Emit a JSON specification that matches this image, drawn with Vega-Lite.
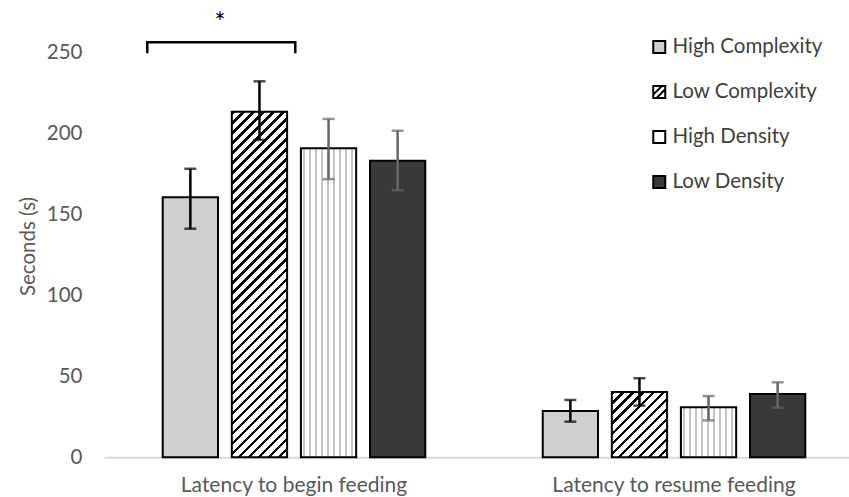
{
  "$schema": "https://vega.github.io/schema/vega-lite/v6.json",
  "width": 745,
  "height": 405,
  "autosize": {"type": "none"},
  "padding": {"left": 104, "top": 52.3, "right": 0, "bottom": 39.7},
  "background": "white",
  "config": {"view": {"stroke": null}, "font": "Lato"},
  "datasets": {
    "bars": [
      {"group": "Latency to begin feeding", "cond": "High Complexity", "mean": 160.5, "lo": 141.1, "hi": 178.1},
      {"group": "Latency to begin feeding", "cond": "Low Complexity", "mean": 213.3, "lo": 195.9, "hi": 232.1},
      {"group": "Latency to begin feeding", "cond": "High Density", "mean": 190.7, "lo": 171.7, "hi": 208.9},
      {"group": "Latency to begin feeding", "cond": "Low Density", "mean": 183.1, "lo": 164.8, "hi": 201.6},
      {"group": "Latency to resume feeding", "cond": "High Complexity", "mean": 28.6, "lo": 22.0, "hi": 35.4},
      {"group": "Latency to resume feeding", "cond": "Low Complexity", "mean": 40.3, "lo": 31.9, "hi": 48.8},
      {"group": "Latency to resume feeding", "cond": "High Density", "mean": 30.9, "lo": 22.8, "hi": 37.8},
      {"group": "Latency to resume feeding", "cond": "Low Density", "mean": 39.1, "lo": 30.6, "hi": 46.3}
    ],
    "bracket": [
      {"bx": 0.1139, "by": 249.4, "ord": 1},
      {"bx": 0.1139, "by": 256.2, "ord": 2},
      {"bx": 0.5034, "by": 256.2, "ord": 3},
      {"bx": 0.5034, "by": 249.4, "ord": 4}
    ],
    "star": [
      {"bx": 0.3053, "by": 262.5, "label": "*"}
    ]
  },
  "layer": [
    {
      "data": {"name": "bars"},
      "encoding": {
        "x": {
          "field": "group", "type": "nominal", "sort": null,
          "scale": {"range": [0, 760], "paddingInner": 0, "paddingOuter": 0},
          "axis": {
            "title": null, "labelAngle": 0, "ticks": false, "tickSize": 0, "labelLimit": 0,
            "domainColor": "#d9d9d9", "domainWidth": 2,
            "labelFont": "Lato", "labelFontSize": 21, "labelColor": "#595959",
            "labelBaseline": "alphabetic", "labelPadding": 34
          }
        },
        "xOffset": {
          "field": "cond", "type": "nominal", "sort": ["High Complexity", "Low Complexity", "High Density", "Low Density"],
          "scale": {"paddingInner": 0.2, "paddingOuter": 0.85}
        }
      },
      "layer": [
        {
          "mark": {"type": "bar", "stroke": "#000000", "strokeWidth": 2},
          "encoding": {
            "y": {
              "field": "mean", "type": "quantitative",
              "scale": {"domain": [0, 250], "nice": false},
              "axis": {
                "values": [0, 50, 100, 150, 200, 250], "grid": false, "domain": false, "ticks": false, "tickSize": 0,
                "labelFont": "Lato", "labelFontSize": 20.5, "labelColor": "#595959", "labelPadding": 22,
                "title": "Seconds (s)", "titleFont": "Lato", "titleFontSize": 20.5, "titleFontWeight": "normal", "titleColor": "#595959",
                "titleAngle": -90, "titleBaseline": "alphabetic", "titleAlign": "center", "titleX": -70, "titleY": 193.7
              }
            },
            "fill": {
              "condition": [
                {"test": "datum.cond === 'Low Complexity' && datum.group === 'Latency to begin feeding'",
                 "value": {"gradient": "linear", "x1": 0, "y1": 0, "x2": 0.18091, "y2": 1.13101, "stops": [
                  {"offset": 0, "color": "#000"}, {"offset": 0.00875, "color": "#000"}, {"offset": 0.00875, "color": "#fff"}, {"offset": 0.025, "color": "#fff"},
                  {"offset": 0.025, "color": "#000"}, {"offset": 0.03375, "color": "#000"}, {"offset": 0.03375, "color": "#fff"}, {"offset": 0.05, "color": "#fff"},
                  {"offset": 0.05, "color": "#000"}, {"offset": 0.05875, "color": "#000"}, {"offset": 0.05875, "color": "#fff"}, {"offset": 0.075, "color": "#fff"},
                  {"offset": 0.075, "color": "#000"}, {"offset": 0.08375, "color": "#000"}, {"offset": 0.08375, "color": "#fff"}, {"offset": 0.1, "color": "#fff"},
                  {"offset": 0.1, "color": "#000"}, {"offset": 0.10875, "color": "#000"}, {"offset": 0.10875, "color": "#fff"}, {"offset": 0.125, "color": "#fff"},
                  {"offset": 0.125, "color": "#000"}, {"offset": 0.13375, "color": "#000"}, {"offset": 0.13375, "color": "#fff"}, {"offset": 0.15, "color": "#fff"},
                  {"offset": 0.15, "color": "#000"}, {"offset": 0.15875, "color": "#000"}, {"offset": 0.15875, "color": "#fff"}, {"offset": 0.175, "color": "#fff"},
                  {"offset": 0.175, "color": "#000"}, {"offset": 0.18375, "color": "#000"}, {"offset": 0.18375, "color": "#fff"}, {"offset": 0.2, "color": "#fff"},
                  {"offset": 0.2, "color": "#000"}, {"offset": 0.20875, "color": "#000"}, {"offset": 0.20875, "color": "#fff"}, {"offset": 0.225, "color": "#fff"},
                  {"offset": 0.225, "color": "#000"}, {"offset": 0.23375, "color": "#000"}, {"offset": 0.23375, "color": "#fff"}, {"offset": 0.25, "color": "#fff"},
                  {"offset": 0.25, "color": "#000"}, {"offset": 0.25875, "color": "#000"}, {"offset": 0.25875, "color": "#fff"}, {"offset": 0.275, "color": "#fff"},
                  {"offset": 0.275, "color": "#000"}, {"offset": 0.28375, "color": "#000"}, {"offset": 0.28375, "color": "#fff"}, {"offset": 0.3, "color": "#fff"},
                  {"offset": 0.3, "color": "#000"}, {"offset": 0.30875, "color": "#000"}, {"offset": 0.30875, "color": "#fff"}, {"offset": 0.325, "color": "#fff"},
                  {"offset": 0.325, "color": "#000"}, {"offset": 0.33375, "color": "#000"}, {"offset": 0.33375, "color": "#fff"}, {"offset": 0.35, "color": "#fff"},
                  {"offset": 0.35, "color": "#000"}, {"offset": 0.35875, "color": "#000"}, {"offset": 0.35875, "color": "#fff"}, {"offset": 0.375, "color": "#fff"},
                  {"offset": 0.375, "color": "#000"}, {"offset": 0.38375, "color": "#000"}, {"offset": 0.38375, "color": "#fff"}, {"offset": 0.4, "color": "#fff"},
                  {"offset": 0.4, "color": "#000"}, {"offset": 0.40875, "color": "#000"}, {"offset": 0.40875, "color": "#fff"}, {"offset": 0.425, "color": "#fff"},
                  {"offset": 0.425, "color": "#000"}, {"offset": 0.43375, "color": "#000"}, {"offset": 0.43375, "color": "#fff"}, {"offset": 0.45, "color": "#fff"},
                  {"offset": 0.45, "color": "#000"}, {"offset": 0.45875, "color": "#000"}, {"offset": 0.45875, "color": "#fff"}, {"offset": 0.475, "color": "#fff"},
                  {"offset": 0.475, "color": "#000"}, {"offset": 0.48375, "color": "#000"}, {"offset": 0.48375, "color": "#fff"}, {"offset": 0.5, "color": "#fff"},
                  {"offset": 0.5, "color": "#000"}, {"offset": 0.50875, "color": "#000"}, {"offset": 0.50875, "color": "#fff"}, {"offset": 0.525, "color": "#fff"},
                  {"offset": 0.525, "color": "#000"}, {"offset": 0.53375, "color": "#000"}, {"offset": 0.53375, "color": "#fff"}, {"offset": 0.55, "color": "#fff"},
                  {"offset": 0.55, "color": "#000"}, {"offset": 0.55875, "color": "#000"}, {"offset": 0.55875, "color": "#fff"}, {"offset": 0.575, "color": "#fff"},
                  {"offset": 0.575, "color": "#000"}, {"offset": 0.58375, "color": "#000"}, {"offset": 0.58375, "color": "#fff"}, {"offset": 0.6, "color": "#fff"},
                  {"offset": 0.6, "color": "#000"}, {"offset": 0.60875, "color": "#000"}, {"offset": 0.60875, "color": "#fff"}, {"offset": 0.625, "color": "#fff"},
                  {"offset": 0.625, "color": "#000"}, {"offset": 0.63375, "color": "#000"}, {"offset": 0.63375, "color": "#fff"}, {"offset": 0.65, "color": "#fff"},
                  {"offset": 0.65, "color": "#000"}, {"offset": 0.65875, "color": "#000"}, {"offset": 0.65875, "color": "#fff"}, {"offset": 0.675, "color": "#fff"},
                  {"offset": 0.675, "color": "#000"}, {"offset": 0.68375, "color": "#000"}, {"offset": 0.68375, "color": "#fff"}, {"offset": 0.7, "color": "#fff"},
                  {"offset": 0.7, "color": "#000"}, {"offset": 0.70875, "color": "#000"}, {"offset": 0.70875, "color": "#fff"}, {"offset": 0.725, "color": "#fff"},
                  {"offset": 0.725, "color": "#000"}, {"offset": 0.73375, "color": "#000"}, {"offset": 0.73375, "color": "#fff"}, {"offset": 0.75, "color": "#fff"},
                  {"offset": 0.75, "color": "#000"}, {"offset": 0.75875, "color": "#000"}, {"offset": 0.75875, "color": "#fff"}, {"offset": 0.775, "color": "#fff"},
                  {"offset": 0.775, "color": "#000"}, {"offset": 0.78375, "color": "#000"}, {"offset": 0.78375, "color": "#fff"}, {"offset": 0.8, "color": "#fff"},
                  {"offset": 0.8, "color": "#000"}, {"offset": 0.80875, "color": "#000"}, {"offset": 0.80875, "color": "#fff"}, {"offset": 0.825, "color": "#fff"},
                  {"offset": 0.825, "color": "#000"}, {"offset": 0.83375, "color": "#000"}, {"offset": 0.83375, "color": "#fff"}, {"offset": 0.85, "color": "#fff"},
                  {"offset": 0.85, "color": "#000"}, {"offset": 0.85875, "color": "#000"}, {"offset": 0.85875, "color": "#fff"}, {"offset": 0.875, "color": "#fff"},
                  {"offset": 0.875, "color": "#000"}, {"offset": 0.88375, "color": "#000"}, {"offset": 0.88375, "color": "#fff"}, {"offset": 0.9, "color": "#fff"},
                  {"offset": 0.9, "color": "#000"}, {"offset": 0.90875, "color": "#000"}, {"offset": 0.90875, "color": "#fff"}, {"offset": 0.925, "color": "#fff"},
                  {"offset": 0.925, "color": "#000"}, {"offset": 0.93375, "color": "#000"}, {"offset": 0.93375, "color": "#fff"}, {"offset": 0.95, "color": "#fff"},
                  {"offset": 0.95, "color": "#000"}, {"offset": 0.95875, "color": "#000"}, {"offset": 0.95875, "color": "#fff"}, {"offset": 0.975, "color": "#fff"},
                  {"offset": 0.975, "color": "#000"}, {"offset": 0.98375, "color": "#000"}, {"offset": 0.98375, "color": "#fff"}, {"offset": 1, "color": "#fff"}
                 ]}},
                {"test": "datum.cond === 'Low Complexity' && datum.group === 'Latency to resume feeding'",
                 "value": {"gradient": "linear", "x1": 0, "y1": 0, "x2": 0.91063, "y2": 1.07571, "stops": [
                  {"offset": 0, "color": "#000"}, {"offset": 0.029167, "color": "#000"}, {"offset": 0.029167, "color": "#fff"}, {"offset": 0.083333, "color": "#fff"},
                  {"offset": 0.083333, "color": "#000"}, {"offset": 0.1125, "color": "#000"}, {"offset": 0.1125, "color": "#fff"}, {"offset": 0.166667, "color": "#fff"},
                  {"offset": 0.166667, "color": "#000"}, {"offset": 0.195833, "color": "#000"}, {"offset": 0.195833, "color": "#fff"}, {"offset": 0.25, "color": "#fff"},
                  {"offset": 0.25, "color": "#000"}, {"offset": 0.279167, "color": "#000"}, {"offset": 0.279167, "color": "#fff"}, {"offset": 0.333333, "color": "#fff"},
                  {"offset": 0.333333, "color": "#000"}, {"offset": 0.3625, "color": "#000"}, {"offset": 0.3625, "color": "#fff"}, {"offset": 0.416667, "color": "#fff"},
                  {"offset": 0.416667, "color": "#000"}, {"offset": 0.445833, "color": "#000"}, {"offset": 0.445833, "color": "#fff"}, {"offset": 0.5, "color": "#fff"},
                  {"offset": 0.5, "color": "#000"}, {"offset": 0.529167, "color": "#000"}, {"offset": 0.529167, "color": "#fff"}, {"offset": 0.583333, "color": "#fff"},
                  {"offset": 0.583333, "color": "#000"}, {"offset": 0.6125, "color": "#000"}, {"offset": 0.6125, "color": "#fff"}, {"offset": 0.666667, "color": "#fff"},
                  {"offset": 0.666667, "color": "#000"}, {"offset": 0.695833, "color": "#000"}, {"offset": 0.695833, "color": "#fff"}, {"offset": 0.75, "color": "#fff"},
                  {"offset": 0.75, "color": "#000"}, {"offset": 0.779167, "color": "#000"}, {"offset": 0.779167, "color": "#fff"}, {"offset": 0.833333, "color": "#fff"},
                  {"offset": 0.833333, "color": "#000"}, {"offset": 0.8625, "color": "#000"}, {"offset": 0.8625, "color": "#fff"}, {"offset": 0.916667, "color": "#fff"},
                  {"offset": 0.916667, "color": "#000"}, {"offset": 0.945833, "color": "#000"}, {"offset": 0.945833, "color": "#fff"}, {"offset": 1, "color": "#fff"}
                 ]}},
                {"test": "datum.cond === 'High Density'",
                 "value": {"gradient": "linear", "x1": 0, "y1": 0, "x2": 1, "y2": 0, "stops": [
                  {"offset": 0.0434, "color": "#fff"}, {"offset": 0.0434, "color": "#c4c4c4"}, {"offset": 0.0652, "color": "#c4c4c4"}, {"offset": 0.0652, "color": "#fff"},
                  {"offset": 0.1519, "color": "#fff"}, {"offset": 0.1519, "color": "#c4c4c4"}, {"offset": 0.1737, "color": "#c4c4c4"}, {"offset": 0.1737, "color": "#fff"},
                  {"offset": 0.2605, "color": "#fff"}, {"offset": 0.2605, "color": "#c4c4c4"}, {"offset": 0.2823, "color": "#c4c4c4"}, {"offset": 0.2823, "color": "#fff"},
                  {"offset": 0.3691, "color": "#fff"}, {"offset": 0.3691, "color": "#c4c4c4"}, {"offset": 0.3909, "color": "#c4c4c4"}, {"offset": 0.3909, "color": "#fff"},
                  {"offset": 0.4776, "color": "#fff"}, {"offset": 0.4776, "color": "#c4c4c4"}, {"offset": 0.4994, "color": "#c4c4c4"}, {"offset": 0.4994, "color": "#fff"},
                  {"offset": 0.5862, "color": "#fff"}, {"offset": 0.5862, "color": "#c4c4c4"}, {"offset": 0.6080, "color": "#c4c4c4"}, {"offset": 0.6080, "color": "#fff"},
                  {"offset": 0.6947, "color": "#fff"}, {"offset": 0.6947, "color": "#c4c4c4"}, {"offset": 0.7165, "color": "#c4c4c4"}, {"offset": 0.7165, "color": "#fff"},
                  {"offset": 0.8033, "color": "#fff"}, {"offset": 0.8033, "color": "#c4c4c4"}, {"offset": 0.8251, "color": "#c4c4c4"}, {"offset": 0.8251, "color": "#fff"},
                  {"offset": 0.9118, "color": "#fff"}, {"offset": 0.9118, "color": "#c4c4c4"}, {"offset": 0.9336, "color": "#c4c4c4"}, {"offset": 0.9336, "color": "#fff"}
                 ]}}
              ],
              "field": "cond", "type": "nominal",
              "scale": {"domain": ["High Complexity", "Low Complexity", "High Density", "Low Density"], "range": ["#d0cece", "#ffffff", "#ffffff", "#3b3838"]},
              "legend": {
                "title": null, "orient": "none", "legendX": 545, "legendY": -15.6,
                "symbolType": "square", "symbolSize": 144, "symbolStrokeColor": "#000000", "symbolStrokeWidth": 2,
                "labelFont": "Lato", "labelFontSize": 20.5, "labelColor": "#404040", "labelOffset": 3,
                "rowPadding": 24, "padding": 0,
                "encode": {"symbols": {"update": {
                  "stroke": {"value": "#000000"},
                  "strokeWidth": {"value": 2},
                  "shape": [
                    {"test": "datum.value === 'Low Complexity'", "value": "M-1,-1H1V1H-1Z M-1,0.45L-1,1L-0.45,1L1,-0.45L1,-1L0.45,-1Z"},
                    {"value": "square"}
                  ],
                  "fill": [
                    {"test": "datum.value === 'Low Complexity'", "value": "#000000"},
                    {"test": "datum.value === 'High Complexity'", "value": "#d0cece"},
                    {"test": "datum.value === 'Low Density'", "value": "#3b3838"},
                    {"value": "#ffffff"}
                  ]
                }}}
              }
            }
          }
        },
        {
          "mark": {"type": "rule", "strokeWidth": 2.5},
          "encoding": {
            "y": {"field": "lo", "type": "quantitative"},
            "y2": {"field": "hi"},
            "stroke": {"condition": {"test": "datum.cond === 'High Density' || datum.cond === 'Low Density'", "value": "#666666"}, "value": "#000000"}
          }
        },
        {
          "mark": {"type": "tick", "size": 12, "thickness": 2.5},
          "encoding": {
            "y": {"field": "lo", "type": "quantitative"},
            "color": {"condition": {"test": "datum.cond === 'High Density' || datum.cond === 'Low Density'", "value": "#666666"}, "value": "#000000"}
          }
        },
        {
          "mark": {"type": "tick", "size": 12, "thickness": 2.5},
          "encoding": {
            "y": {"field": "hi", "type": "quantitative"},
            "color": {"condition": {"test": "datum.cond === 'High Density' || datum.cond === 'Low Density'", "value": "#666666"}, "value": "#000000"}
          }
        }
      ]
    },
    {
      "data": {"name": "bracket"},
      "mark": {"type": "line", "stroke": "#000000", "strokeWidth": 2.5, "strokeJoin": "miter"},
      "encoding": {
        "x": {"field": "bx", "type": "quantitative", "scale": {"domain": [0, 2], "range": [0, 760], "nice": false, "zero": false}, "axis": null},
        "y": {"field": "by", "type": "quantitative"},
        "order": {"field": "ord"}
      }
    },
    {
      "data": {"name": "star"},
      "mark": {"type": "text", "font": "Lato", "fontSize": 26, "color": "#000000", "baseline": "alphabetic", "align": "center"},
      "encoding": {
        "x": {"field": "bx", "type": "quantitative", "scale": {"domain": [0, 2], "range": [0, 760], "nice": false, "zero": false}, "axis": null},
        "y": {"field": "by", "type": "quantitative"},
        "text": {"field": "label"}
      }
    }
  ],
  "resolve": {"scale": {"x": "independent"}, "axis": {"x": "independent"}}
}
